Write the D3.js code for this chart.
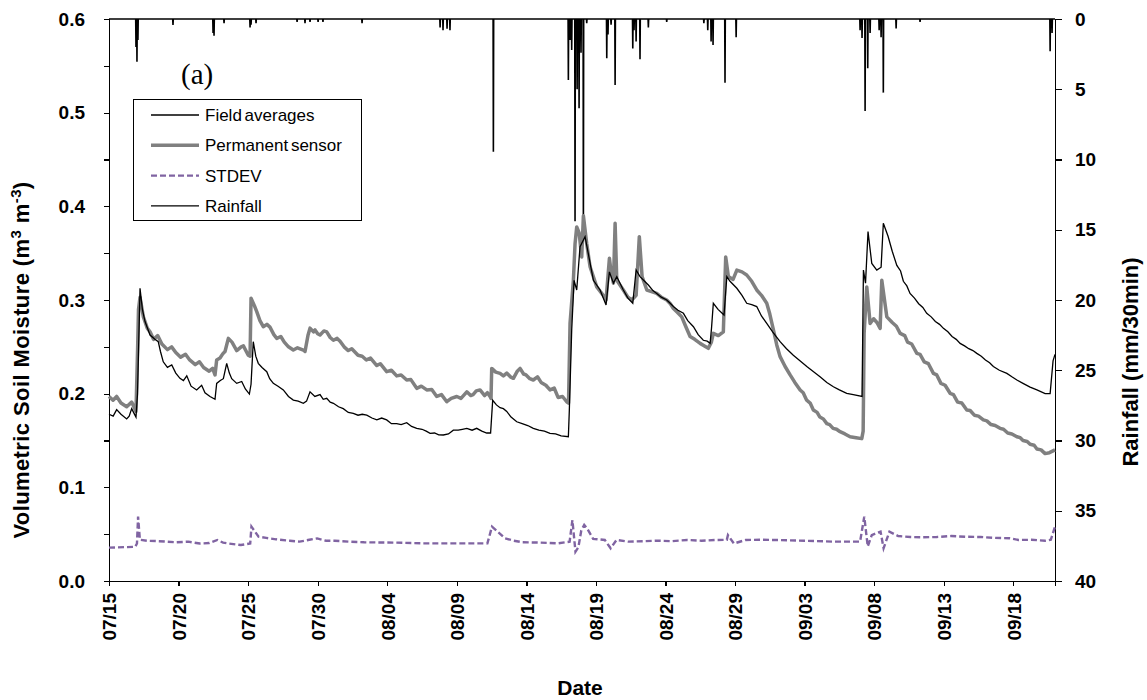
<!DOCTYPE html>
<html>
<head>
<meta charset="utf-8">
<script src="https://cdn.jsdelivr.net/npm/d3@7"></script>
<style>
  html, body { margin: 0; padding: 0; background: #fff; }
  svg { display: block; }
  .tick text { font-family: "Liberation Sans", Arial, sans-serif; font-weight: bold; font-size: 19px; fill: #000; }
  .axis path, .axis line { stroke: #000; stroke-width: 1.3px; shape-rendering: crispEdges; }
  .title { font-family: "Liberation Sans", Arial, sans-serif; font-weight: bold; font-size: 21px; fill: #000; }
  .legend text { font-family: "Liberation Sans", Arial, sans-serif; font-size: 17px; fill: #000; word-spacing: -2px; }
</style>
</head>
<body>
<svg id="chart" width="1147" height="700"></svg>
<script>
// Soil moisture record, 07/15 – 09/21; time is given in days after 07/15 00:00.
const startDate = Date.UTC(2010, 6, 15);
const endDay = 68;

const dateTickLabels = ["07/15","07/20","07/25","07/30","08/04","08/09","08/14","08/19","08/24","08/29","09/03","09/08","09/13","09/18"];
const moistureTicks = [0, 0.05, 0.1, 0.15, 0.2, 0.25, 0.3, 0.35, 0.4, 0.45, 0.5, 0.55, 0.6];
const rainTicks = [0, 5, 10, 15, 20, 25, 30, 35, 40];

// Field averages (m3 m-3): [day, value]
const fieldAverages = [
  [0,0.178],[0.3,0.176],[0.55,0.183],[0.86,0.178],[1.27,0.173],[1.45,0.176],[1.63,0.184],[1.8,0.179],[1.94,0.175],
  [2.05,0.20],[2.23,0.3125],[2.4,0.29],[2.59,0.277],[2.95,0.2626],[3.3,0.258],[3.54,0.2555],[3.7,0.245],
  [3.90,0.234],[4.2,0.228],[4.51,0.2306],[4.8,0.222],[5.10,0.2164],[5.35,0.214],[5.59,0.219],[5.9,0.208],
  [6.30,0.204],[6.66,0.209],[6.9,0.201],[7.26,0.197],[7.62,0.194],[7.74,0.211],[8.0,0.214],[8.22,0.216],
  [8.46,0.2324],[8.65,0.222],[8.82,0.216],[9.18,0.211],[9.54,0.213],[9.8,0.205],[10.09,0.1996],[10.21,0.21],
  [10.37,0.2555],[10.55,0.240],[10.73,0.2324],[11.0,0.228],[11.34,0.2235],[11.55,0.216],[11.81,0.211],
  [12.15,0.208],[12.53,0.204],[12.9,0.197],[13.25,0.1932],[13.6,0.192],[13.97,0.1897],[14.2,0.192],
  [14.45,0.202],[14.8,0.197],[15.17,0.199],[15.4,0.194],[15.65,0.195],[15.9,0.191],[16.13,0.1897],
  [16.5,0.186],[16.84,0.184],[17.2,0.180],[17.56,0.179],[17.9,0.177],[18.2,0.178],[18.53,0.177],
  [18.9,0.174],[19.25,0.172],[19.6,0.174],[19.96,0.172],[20.3,0.168],[20.68,0.168],[21.0,0.167],
  [21.40,0.169],[21.75,0.165],[22.12,0.163],[22.5,0.162],[22.8,0.160],[23.08,0.1577],[23.4,0.158],
  [23.7,0.156],[24.03,0.1559],[24.4,0.157],[24.75,0.161],[25.1,0.161],[25.4,0.162],[25.72,0.163],
  [26.1,0.161],[26.43,0.163],[26.8,0.160],[27.15,0.158],[27.43,0.158],[27.58,0.193],[27.85,0.188],
  [28.11,0.185],[28.35,0.184],[28.59,0.181],[28.9,0.175],[29.31,0.170],[29.7,0.168],[30.1,0.166],
  [30.50,0.163],[30.9,0.161],[31.3,0.160],[31.70,0.1577],[32.1,0.157],[32.5,0.155],[33.02,0.154],
  [33.09,0.1826],[33.26,0.268],[33.43,0.321],[33.62,0.3107],[33.86,0.357],[34.22,0.3676],[34.51,0.345],
  [34.82,0.321],[35.30,0.3107],[35.73,0.2946],[35.97,0.33],[36.26,0.318],[36.50,0.325],[36.97,0.3107],
  [37.3,0.302],[37.65,0.2965],[37.89,0.332],[38.17,0.325],[38.5,0.320],[38.77,0.316],[39.1,0.310],
  [39.37,0.307],[39.7,0.303],[40.09,0.300],[40.3,0.297],[40.57,0.293],[40.9,0.289],[41.29,0.2858],
  [41.6,0.278],[42.01,0.2715],[42.35,0.263],[42.72,0.257],[43.0,0.256],[43.21,0.2537],[43.31,0.27],
  [43.44,0.2965],[43.78,0.29],[44.21,0.284],[44.41,0.325],[44.64,0.32],[45.13,0.3125],[45.5,0.305],
  [45.84,0.2965],[46.2,0.295],[46.56,0.293],[46.9,0.283],[47.28,0.275],[47.7,0.266],[48.24,0.2555],
  [48.7,0.248],[49.19,0.241],[49.6,0.236],[50.16,0.229],[50.6,0.224],[51.11,0.218],[51.6,0.212],
  [52.07,0.2074],[52.5,0.204],[53.03,0.2004],[53.5,0.199],[54.13,0.197],[54.23,0.332],[54.38,0.318],
  [54.56,0.373],[54.83,0.339],[55.19,0.332],[55.50,0.335],[55.66,0.382],[56.00,0.368],[56.3,0.352],
  [56.63,0.337],[56.9,0.331],[57.1,0.320],[57.35,0.315],[57.58,0.307],[57.9,0.302],[58.2,0.296],
  [58.5,0.292],[58.78,0.2858],[59.1,0.282],[59.4,0.277],[59.7,0.274],[59.98,0.2697],[60.3,0.266],
  [60.6,0.261],[60.9,0.258],[61.18,0.2537],[61.5,0.251],[61.8,0.248],[62.1,0.246],[62.38,0.243],
  [62.7,0.240],[63.0,0.236],[63.3,0.233],[63.57,0.229],[64.0,0.225],[64.54,0.2217],[64.9,0.218],
  [65.26,0.2146],[65.7,0.211],[66.21,0.207],[66.7,0.204],[67.29,0.200],[67.65,0.200],[67.86,0.235],[68.0,0.242]
];

// Permanent sensor (m3 m-3): [day, value]
const permanentSensor = [
  [0,0.197],[0.29,0.193],[0.55,0.197],[0.86,0.190],[1.27,0.186],[1.63,0.191],[1.94,0.181],[2.06,0.25],
  [2.12,0.29],[2.23,0.303],[2.47,0.282],[2.75,0.270],[2.95,0.266],[3.2,0.258],[3.5,0.262],[3.8,0.253],
  [4.2,0.247],[4.5,0.250],[4.8,0.244],[5.15,0.239],[5.5,0.242],[5.8,0.236],[6.2,0.231],[6.5,0.234],
  [6.8,0.228],[7.2,0.224],[7.45,0.227],[7.62,0.220],[7.74,0.236],[7.98,0.238],[8.2,0.243],[8.34,0.245],
  [8.58,0.259],[8.84,0.255],[9.18,0.246],[9.5,0.250],[9.66,0.251],[10.01,0.241],[10.14,0.240],[10.21,0.302],
  [10.45,0.294],[10.62,0.2875],[10.85,0.278],[11.09,0.2715],[11.35,0.274],[11.57,0.271],[11.85,0.263],
  [12.06,0.259],[12.35,0.261],[12.6,0.255],[12.9,0.250],[13.25,0.2466],[13.55,0.249],[13.97,0.2466],
  [14.09,0.245],[14.3,0.262],[14.45,0.270],[14.7,0.266],[14.81,0.268],[15.0,0.264],[15.17,0.2626],
  [15.45,0.267],[15.65,0.266],[15.9,0.260],[16.13,0.257],[16.4,0.259],[16.61,0.256],[16.9,0.250],
  [17.2,0.246],[17.45,0.248],[17.9,0.241],[18.2,0.240],[18.5,0.236],[18.8,0.238],[19.25,0.230],
  [19.5,0.232],[19.96,0.2235],[20.3,0.225],[20.68,0.219],[21.0,0.220],[21.40,0.2146],[21.7,0.215],
  [22.12,0.2057],[22.45,0.208],[22.84,0.204],[23.2,0.2045],[23.56,0.197],[23.9,0.199],[24.28,0.1914],
  [24.6,0.195],[25.00,0.197],[25.3,0.195],[25.72,0.202],[26.0,0.198],[26.17,0.199],[26.4,0.203],
  [26.67,0.204],[27.0,0.198],[27.2,0.201],[27.39,0.197],[27.46,0.195],[27.51,0.227],[27.8,0.223],
  [28.11,0.2217],[28.35,0.219],[28.59,0.222],[28.85,0.218],[29.07,0.2164],[29.35,0.224],[29.55,0.227],
  [29.8,0.221],[29.98,0.22],[30.25,0.216],[30.50,0.2146],[30.8,0.218],[31.06,0.212],[31.4,0.209],
  [31.70,0.204],[32.0,0.206],[32.28,0.196],[32.6,0.197],[32.90,0.1914],[33.03,0.19],[33.14,0.275],
  [33.38,0.321],[33.50,0.36],[33.62,0.378],[33.79,0.372],[33.98,0.346],[34.10,0.39],[34.34,0.36],
  [34.58,0.3355],[35.06,0.314],[35.53,0.305],[35.73,0.300],[35.97,0.3445],[36.09,0.33],[36.26,0.318],
  [36.38,0.382],[36.50,0.321],[36.97,0.3107],[37.3,0.303],[37.58,0.300],[37.89,0.305],[38.12,0.3676],
  [38.32,0.325],[38.66,0.3107],[39.0,0.309],[39.37,0.307],[39.7,0.303],[40.09,0.300],[40.35,0.296],
  [40.57,0.291],[40.85,0.287],[41.17,0.282],[41.45,0.272],[41.77,0.261],[42.1,0.258],[42.49,0.2537],
  [42.8,0.251],[43.08,0.2484],[43.3,0.255],[43.44,0.2644],[43.8,0.262],[44.16,0.266],[44.33,0.346],
  [44.52,0.325],[44.86,0.322],[45.13,0.332],[45.5,0.330],[45.84,0.3267],[46.2,0.320],[46.56,0.3107],
  [46.9,0.305],[47.28,0.2965],[47.5,0.285],[47.76,0.268],[48.0,0.252],[48.24,0.2395],[48.6,0.229],
  [48.96,0.220],[49.3,0.212],[49.68,0.204],[49.9,0.201],[50.15,0.193],[50.4,0.190],[50.63,0.1826],
  [50.9,0.180],[51.1,0.175],[51.35,0.173],[51.60,0.168],[51.8,0.167],[52.05,0.163],[52.3,0.162],
  [52.55,0.1594],[52.9,0.157],[53.27,0.154],[53.7,0.153],[54.11,0.152],[54.21,0.16],[54.28,0.2644],
  [54.47,0.314],[54.71,0.275],[54.96,0.28],[55.2,0.276],[55.43,0.2697],[55.55,0.321],[55.91,0.282],
  [56.3,0.276],[56.6,0.272],[56.87,0.2644],[57.2,0.262],[57.4,0.255],[57.7,0.253],[58.07,0.243],
  [58.3,0.242],[58.6,0.234],[58.9,0.232],[59.26,0.2217],[59.5,0.220],[59.8,0.211],[60.1,0.209],
  [60.46,0.2004],[60.7,0.199],[61.0,0.191],[61.3,0.190],[61.66,0.1826],[61.9,0.182],[62.2,0.177],
  [62.5,0.176],[62.85,0.172],[63.1,0.171],[63.4,0.167],[63.7,0.166],[64.05,0.163],[64.3,0.162],
  [64.6,0.158],[64.9,0.157],[65.26,0.154],[65.5,0.153],[65.7,0.150],[66.0,0.149],[66.21,0.146],
  [66.5,0.145],[66.7,0.141],[67.0,0.140],[67.29,0.136],[67.6,0.137],[68.0,0.140]
];

// Standard deviation of the field samples (m3 m-3): [day, value]
const stdev = [
  [0,0.0356],[1.88,0.0365],[2.01,0.040],[2.09,0.0687],[2.22,0.044],[2.73,0.043],[3.6,0.0425],[4.84,0.0413],
  [5.7,0.042],[6.53,0.040],[7.2,0.0405],[7.79,0.0438],[8.2,0.041],[8.63,0.040],[9.48,0.0384],[10.15,0.040],
  [10.24,0.058],[10.75,0.0473],[11.3,0.046],[12.01,0.0445],[13.0,0.043],[13.70,0.042],[14.4,0.044],
  [14.96,0.0455],[15.6,0.043],[16.23,0.043],[17.3,0.042],[18.34,0.0413],[20.45,0.041],[22.56,0.0402],
  [24.67,0.0402],[27.20,0.0402],[27.53,0.058],[28.46,0.0456],[29.1,0.043],[29.73,0.0413],[31.0,0.041],
  [32.26,0.0402],[33.11,0.042],[33.31,0.065],[33.53,0.0313],[33.74,0.036],[33.95,0.054],[34.16,0.0598],
  [34.37,0.056],[34.80,0.045],[35.64,0.0438],[36.06,0.0349],[36.48,0.0438],[37.33,0.042],[38.4,0.0425],
  [39.43,0.043],[40.5,0.0425],[41.55,0.0438],[42.6,0.043],[43.65,0.0438],[44.41,0.044],[44.49,0.049],
  [44.92,0.040],[45.76,0.0438],[46.8,0.044],[47.87,0.0438],[49.98,0.043],[52.09,0.042],[53.99,0.042],
  [54.29,0.0687],[54.54,0.037],[54.83,0.049],[55.46,0.0527],[55.68,0.035],[56.10,0.0527],[56.73,0.048],
  [57.6,0.047],[58.42,0.0466],[59.5,0.047],[60.53,0.048],[61.6,0.0472],[62.64,0.047],[63.7,0.046],
  [64.75,0.0456],[65.38,0.0438],[66.3,0.044],[67.29,0.043],[67.7,0.044],[68.0,0.058]
];

// Rainfall in mm per 30 min: [day, amount]
const rainfall = [
  [1.94,2.0],[2.01,3.04],[2.08,1.5],[4.60,0.43],[7.48,1.0],[7.55,1.2],[8.27,0.3],[10.14,0.6],[10.21,0.4],
  [10.57,0.3],[13.52,0.2],[14.09,0.3],[14.45,0.2],[15.03,0.2],[15.38,0.2],[18.19,0.3],[23.80,0.6],
  [24.01,0.8],[24.30,0.7],[24.51,0.8],[27.63,9.44],[33.02,4.34],[33.14,1.5],[33.26,2.2],[33.50,14.4],
  [33.65,5.0],[33.79,6.36],[33.93,2.4],[34.10,15.2],[34.34,0.3],[35.78,2.8],[35.87,1.1],[36.09,0.4],
  [36.38,4.7],[37.65,2.1],[37.74,0.8],[37.89,1.6],[38.17,2.87],[38.77,0.6],[40.09,0.2],[42.76,0.3],
  [43.04,0.8],[43.28,1.6],[43.42,1.85],[44.28,4.53],[45.08,1.3],[53.99,0.8],[54.13,1.36],[54.35,6.55],
  [54.54,3.5],[54.71,1.0],[55.36,0.8],[55.50,1.3],[55.66,5.24],[56.58,0.67],[58.30,0.2],[67.65,2.3],[67.79,1.0]
];

const plot = { left: 109, right: 1055, top: 19, bottom: 581 };

const toDate = d => new Date(startDate + d * 86400000);
const parseTick = d3.utcParse("%Y/%m/%d");
const tickDates = dateTickLabels.map(s => parseTick("2010/" + s));

const x = d3.scaleUtc().domain([toDate(0), toDate(endDay)]).range([plot.left, plot.right]);
const y = d3.scaleLinear().domain([0, 0.6]).range([plot.bottom, plot.top]);
const yRain = d3.scaleLinear().domain([0, 40]).range([plot.top, plot.bottom]);

const svg = d3.select("#chart");

// Axes
svg.append("g").attr("class", "axis")
  .attr("transform", `translate(0,${plot.bottom})`)
  .call(d3.axisBottom(x).tickValues(tickDates).tickSize(5).tickPadding(7).tickFormat(d3.utcFormat("%m/%d")))
  .call(g => g.selectAll(".tick text")
    .attr("transform", "rotate(-90)")
    .attr("text-anchor", "end")
    .attr("x", -12).attr("y", 0).attr("dy", "0.36em"));

svg.append("g").attr("class", "axis")
  .attr("transform", `translate(${plot.left},0)`)
  .call(d3.axisLeft(y).tickValues(moistureTicks).tickSize(5).tickPadding(19)
    .tickFormat(v => Math.round(v * 100) % 10 === 0 ? d3.format(".1f")(v) : ""));

svg.append("g").attr("class", "axis")
  .attr("transform", `translate(${plot.right},0)`)
  .call(d3.axisRight(yRain).tickValues(rainTicks).tickSize(7).tickPadding(13));

// Series
const line = d3.line().x(p => x(toDate(p[0]))).y(p => y(p[1]));

// Rainfall hangs from the top axis: each 30-min total is a spike back to zero.
const halfHour = 1 / 48;
const rainPath = [[0, 0]];
rainfall.forEach(([d, r]) => { rainPath.push([d - halfHour, 0], [d, r], [d + halfHour, 0]); });
rainPath.push([endDay, 0]);
const rainLine = d3.line().x(p => x(toDate(Math.max(0, Math.min(endDay, p[0]))))).y(p => yRain(p[1]));

svg.append("path").datum(rainPath)
  .attr("d", rainLine).attr("fill", "none").attr("stroke", "#000").attr("stroke-width", 1.6);

svg.append("path").datum(stdev)
  .attr("d", line).attr("fill", "none").attr("stroke", "#8064A2").attr("stroke-width", 2.4)
  .attr("stroke-dasharray", "6,3");

svg.append("path").datum(permanentSensor)
  .attr("d", line).attr("fill", "none").attr("stroke", "#808080").attr("stroke-width", 3.5)
  .attr("stroke-linejoin", "round");

svg.append("path").datum(fieldAverages)
  .attr("d", line).attr("fill", "none").attr("stroke", "#000").attr("stroke-width", 1.3);

// Axis titles
svg.append("text").attr("class", "title")
  .attr("transform", `translate(29,360) rotate(-90)`).attr("text-anchor", "middle")
  .style("font-size", "22px").style("letter-spacing", "0.4px")
  .html('Volumetric Soil Moisture (m<tspan dy="-8" font-size="15">3</tspan><tspan dy="8"> m</tspan><tspan dy="-8" font-size="15">-3</tspan><tspan dy="8">)</tspan>');

svg.append("text").attr("class", "title")
  .attr("transform", `translate(1138,362) rotate(-90)`).attr("text-anchor", "middle")
  .style("font-size", "22px")
  .text("Rainfall (mm/30min)");

svg.append("text").attr("class", "title")
  .attr("x", 580).attr("y", 695).attr("text-anchor", "middle").text("Date");

// Panel label
svg.append("text").attr("x", 181).attr("y", 84)
  .attr("font-family", "'Liberation Serif', 'Times New Roman', serif").attr("font-size", 29)
  .text("(a)");

// Legend
const legendItems = [
  { label: "Field averages", color: "#000", width: 1.3, dash: null },
  { label: "Permanent sensor", color: "#808080", width: 3.5, dash: null },
  { label: "STDEV", color: "#8064A2", width: 2.4, dash: "6,3" },
  { label: "Rainfall", color: "#000", width: 1.3, dash: null }
];
const legend = svg.append("g").attr("class", "legend");
legend.append("rect").attr("x", 133.5).attr("y", 99.5).attr("width", 228).attr("height", 121)
  .attr("fill", "#fff").attr("stroke", "#000").attr("stroke-width", 1);
legendItems.forEach((it, i) => {
  const cy = 115 + i * 30.3;
  legend.append("line").attr("x1", 151).attr("x2", 199).attr("y1", cy).attr("y2", cy)
    .attr("stroke", it.color).attr("stroke-width", it.width).attr("stroke-dasharray", it.dash);
  legend.append("text").attr("x", 205).attr("y", cy).attr("dy", "0.35em").text(it.label);
});
</script>
</body>
</html>
